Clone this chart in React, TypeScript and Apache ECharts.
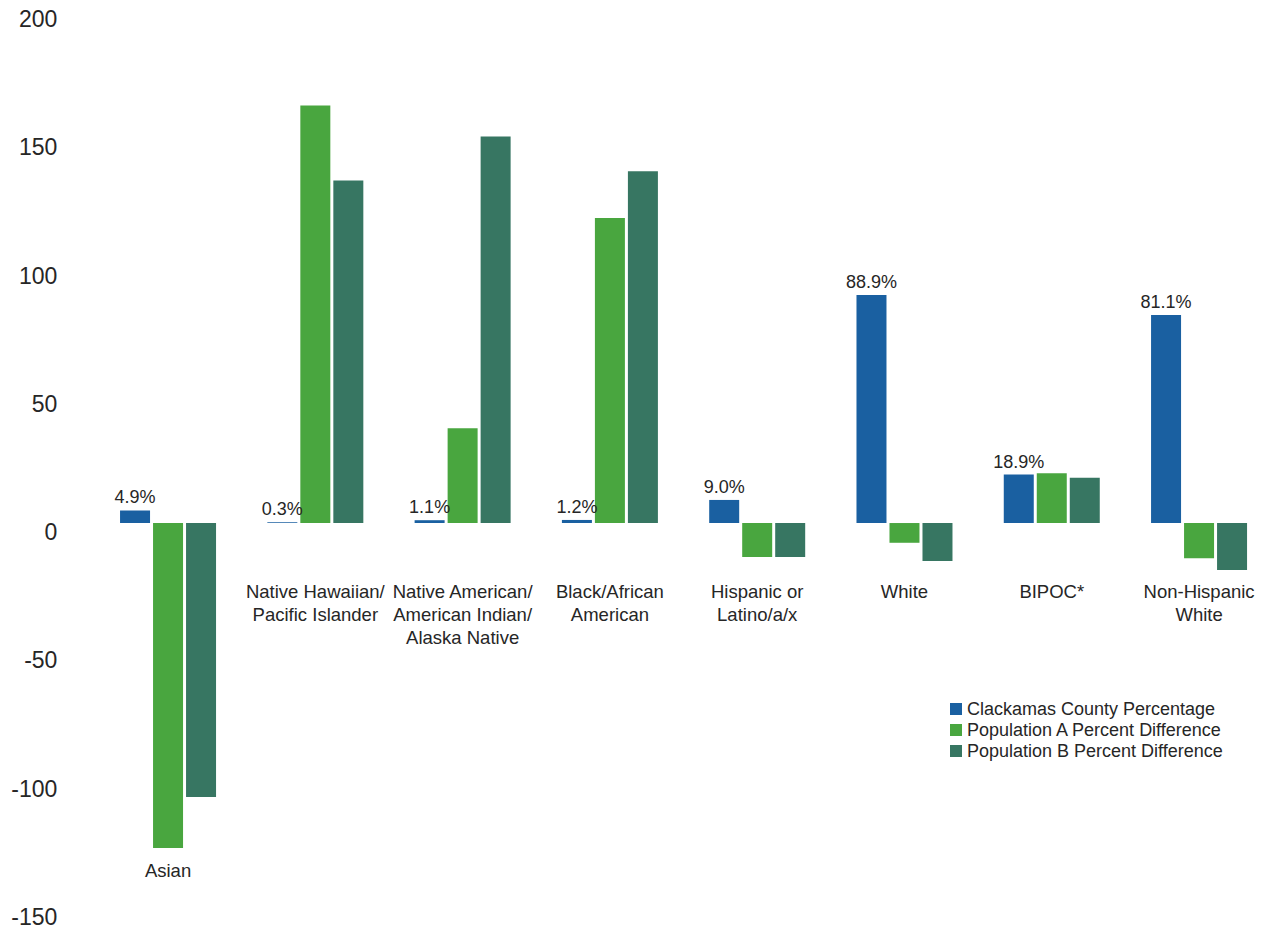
import React, { useEffect, useRef } from "react";
import * as echarts from "echarts";

const categories = [
  "Asian",
  "Native Hawaiian/\nPacific Islander",
  "Native American/\nAmerican Indian/\nAlaska Native",
  "Black/African\nAmerican",
  "Hispanic or\nLatino/a/x",
  "White",
  "BIPOC*",
  "Non-Hispanic\nWhite",
];

const seriesNames = [
  "Clackamas County Percentage",
  "Population A Percent Difference",
  "Population B Percent Difference",
];

const countyPct = [4.9, 0.3, 1.1, 1.2, 9.0, 88.9, 18.9, 81.1];
const popADiff = [-126.7, 162.8, 36.9, 118.9, -13.2, -7.7, 19.4, -13.7];
const popBDiff = [-106.8, 133.5, 150.7, 137.1, -13.2, -14.8, 17.7, -18.3];

const yTicks = { min: -150, max: 200, interval: 50 };

const FONT = "'Liberation Sans', Arial, sans-serif";
const TEXT = "#262626";
const COLORS = ["#1a60a1", "#49a63f", "#377662"];

const GRID_TOP = 10;
const GRID_HEIGHT = 897.8;

export default function App() {
  const ref = useRef<HTMLDivElement>(null);

  useEffect(() => {
    if (!ref.current) return;
    const chart = echarts.init(ref.current, undefined, { renderer: "svg" });
    const barCommon = {
      type: "bar" as const,
      barWidth: 30,
      barGap: "10%",
    };
    // distance from grid bottom up to the zero line
    const zeroFromBottom =
      (GRID_HEIGHT * (0 - yTicks.min)) / (yTicks.max - yTicks.min);
    chart.setOption({
      animation: false,
      backgroundColor: "#ffffff",
      textStyle: { fontFamily: FONT },
      color: COLORS,
      grid: {
        left: 94.4,
        top: GRID_TOP,
        width: 1178.3,
        height: GRID_HEIGHT,
        containLabel: false,
        outerBoundsMode: "none",
      },
      legend: {
        orient: "vertical",
        left: 950,
        top: 700,
        padding: 0,
        itemWidth: 12,
        itemHeight: 12,
        itemGap: 3,
        icon: "rect",
        data: seriesNames,
        textStyle: { fontSize: 18, color: TEXT, fontFamily: FONT, lineHeight: 18 },
      },
      xAxis: {
        type: "category",
        data: categories,
        position: "bottom",
        offset: -zeroFromBottom,
        axisLine: { show: false, onZero: false },
        axisTick: { show: false },
        splitLine: { show: false },
        axisLabel: {
          interval: 0,
          margin: 57,
          fontSize: 18.5,
          lineHeight: 23,
          color: TEXT,
          fontFamily: FONT,
          formatter: (v: string) => (v === "Asian" ? "{s| }\nAsian" : v),
          rich: {
            s: { lineHeight: 279, fontSize: 1 },
          },
        },
      },
      yAxis: {
        type: "value",
        min: yTicks.min,
        max: yTicks.max,
        interval: yTicks.interval,
        axisLine: { show: false },
        axisTick: { show: false },
        splitLine: { show: false },
        axisLabel: {
          fontSize: 23,
          color: TEXT,
          fontFamily: FONT,
          margin: 37,
          verticalAlign: "top",
          lineHeight: 18,
        },
      },
      series: [
        {
          ...barCommon,
          name: seriesNames[0],
          data: countyPct,
          label: {
            show: true,
            position: "top",
            distance: 4,
            fontSize: 18,
            color: TEXT,
            fontFamily: FONT,
            formatter: (p: any) => `${Number(p.value).toFixed(1)}%`,
          },
        },
        { ...barCommon, name: seriesNames[1], data: popADiff },
        { ...barCommon, name: seriesNames[2], data: popBDiff },
      ],
    });
    return () => chart.dispose();
  }, []);

  return (
    <div
      ref={ref}
      style={{ position: "absolute", left: 0, top: 0, width: 1262, height: 928 }}
    />
  );
}
